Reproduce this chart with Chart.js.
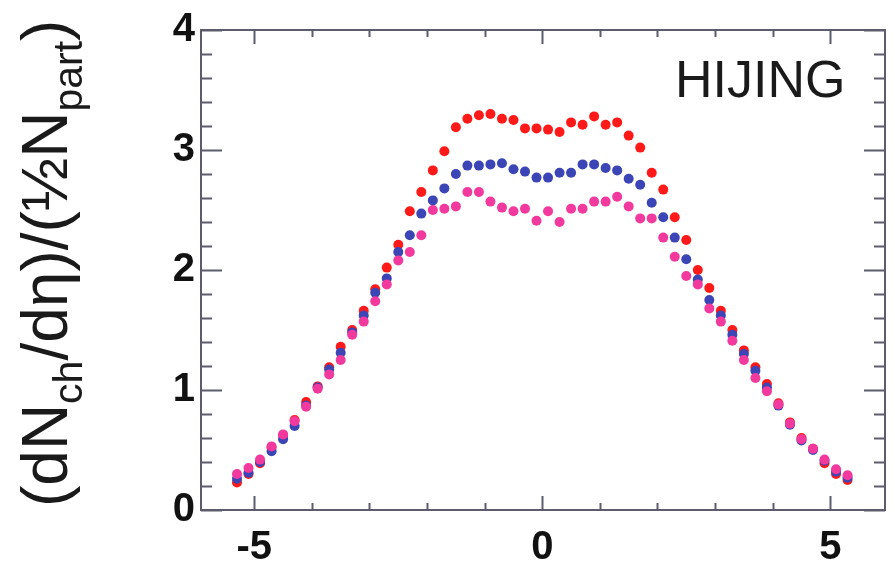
<!DOCTYPE html>
<html>
<head>
<meta charset="utf-8">
<script src="https://cdn.jsdelivr.net/npm/chart.js@4.4.1/dist/chart.umd.min.js"></script>
<style>
  html, body { margin: 0; padding: 0; background: #fff; }
  #wrap { width: 895px; height: 562px; }
</style>
</head>
<body>
<div id="wrap"><canvas id="c" width="895" height="562"></canvas></div>
<script>
// Pseudorapidity bin centres
const eta = [-5.3, -5.1, -4.9, -4.7, -4.5, -4.3, -4.1, -3.9, -3.7, -3.5, -3.3, -3.1, -2.9, -2.7,
  -2.5, -2.3, -2.1, -1.9, -1.7, -1.5, -1.3, -1.1, -0.9, -0.7, -0.5, -0.3, -0.1,
  0.1, 0.3, 0.5, 0.7, 0.9, 1.1, 1.3, 1.5, 1.7, 1.9, 2.1, 2.3, 2.5, 2.7, 2.9,
  3.1, 3.3, 3.5, 3.7, 3.9, 4.1, 4.3, 4.5, 4.7, 4.9, 5.1, 5.3];

// (dNch/dη)/(½Npart) for the three HIJING samples
const redSeries = [0.23, 0.30, 0.39, 0.52, 0.62, 0.75, 0.90, 1.03, 1.19, 1.36,
  1.50, 1.66, 1.84, 2.02, 2.21, 2.49, 2.65, 2.83, 2.99, 3.19,
  3.26, 3.29, 3.30, 3.26, 3.25, 3.18, 3.18,
  3.17, 3.15, 3.23, 3.21, 3.28, 3.21, 3.23, 3.12, 3.02, 2.81,
  2.67, 2.44, 2.25, 2.00, 1.85, 1.66, 1.50, 1.33, 1.19, 1.05,
  0.89, 0.73, 0.60, 0.51, 0.39, 0.30, 0.25];

const blueSeries = [0.26, 0.31, 0.40, 0.49, 0.59, 0.70, 0.87, 1.02, 1.17, 1.31,
  1.48, 1.62, 1.81, 1.93, 2.15, 2.29, 2.47, 2.58, 2.68, 2.80,
  2.87, 2.87, 2.88, 2.89, 2.84, 2.82, 2.77,
  2.77, 2.81, 2.81, 2.88, 2.88, 2.85, 2.83, 2.76, 2.71, 2.56,
  2.44, 2.27, 2.09, 1.92, 1.75, 1.62, 1.46, 1.30, 1.16, 1.02,
  0.87, 0.71, 0.58, 0.50, 0.41, 0.32, 0.27];

const pinkSeries = [0.30, 0.35, 0.42, 0.53, 0.63, 0.74, 0.86, 1.01, 1.13, 1.25,
  1.46, 1.57, 1.74, 1.88, 2.08, 2.15, 2.29, 2.50, 2.51, 2.53,
  2.65, 2.65, 2.57, 2.52, 2.49, 2.51, 2.41,
  2.49, 2.40, 2.51, 2.51, 2.57, 2.57, 2.61, 2.53, 2.43, 2.43,
  2.27, 2.11, 1.95, 1.88, 1.68, 1.57, 1.41, 1.25, 1.10, 0.99,
  0.88, 0.72, 0.59, 0.51, 0.42, 0.34, 0.29];

// Axis tick labels
const xTickLabels = [-5, 0, 5];
const yTickLabels = [0, 1, 2, 3, 4];

const FONT = '"Liberation Sans", Arial, Helvetica, sans-serif';
const AXIS_COLOR = '#5c5c6c';

function toPoints(values) {
  return eta.map((x, i) => ({ x: x, y: values[i] }));
}

// Frame with inward ticks on all four sides
const framePlugin = {
  id: 'frame',
  afterDraw(chart) {
    const { ctx, chartArea: a, scales: { x, y } } = chart;
    ctx.save();
    ctx.strokeStyle = AXIS_COLOR;
    ctx.lineWidth = 2;
    ctx.strokeRect(a.left, a.top, a.right - a.left, a.bottom - a.top);
    ctx.beginPath();
    for (let v = -5; v <= 5; v++) {
      const px = Math.round(x.getPixelForValue(v)) + 0.5;
      const len = (v % 5 === 0) ? 14 : 7;
      ctx.moveTo(px, a.bottom); ctx.lineTo(px, a.bottom - len);
      ctx.moveTo(px, a.top); ctx.lineTo(px, a.top + len);
    }
    for (let k = 0; k <= 20; k++) {
      const py = Math.round(y.getPixelForValue(k * 0.2)) + 0.5;
      const len = (k % 5 === 0) ? 21 : 11;
      ctx.moveTo(a.left, py); ctx.lineTo(a.left + len, py);
      ctx.moveTo(a.right, py); ctx.lineTo(a.right - len, py);
    }
    ctx.stroke();
    ctx.restore();
  }
};

// Rotated y-axis title with subscripts, and the generator label
const textPlugin = {
  id: 'texts',
  afterDraw(chart) {
    const ctx = chart.ctx;
    ctx.save();
    ctx.fillStyle = '#1a1a1a';
    ctx.textBaseline = 'alphabetic';
    ctx.textAlign = 'left';
    ctx.font = '52px ' + FONT;
    ctx.fillText('HIJING', 675, 97);

    const parts = [
      ['(dN', false], ['ch', true], ['/dη)/(½N', false], ['part', true], [')', false]
    ];
    ctx.translate(67, 507);
    ctx.rotate(-Math.PI / 2);
    let cx = 0;
    for (const [txt, sub] of parts) {
      ctx.font = (sub ? '41px ' : '64px ') + FONT;
      ctx.fillText(txt, cx, sub ? 15 : 0);
      cx += ctx.measureText(txt).width;
    }
    ctx.restore();
  }
};

const pointStyleOf = (color) => ({
  showLine: false,
  pointStyle: 'circle',
  pointRadius: 5,
  pointHoverRadius: 5,
  pointBackgroundColor: color,
  pointBorderColor: color,
  pointBorderWidth: 0,
  backgroundColor: color,
  borderColor: color
});

new Chart(document.getElementById('c'), {
  type: 'scatter',
  data: {
    datasets: [
      Object.assign({ label: 'red', data: toPoints(redSeries), order: 2 }, pointStyleOf('#ff1a1a')),
      Object.assign({ label: 'blue', data: toPoints(blueSeries), order: 1 }, pointStyleOf('#3b45b5')),
      Object.assign({ label: 'pink', data: toPoints(pinkSeries), order: 0 }, pointStyleOf('#f2399d'))
    ]
  },
  options: {
    responsive: false,
    animation: false,
    devicePixelRatio: 1,
    layout: { padding: { top: 10, right: 10, left: 0, bottom: 0 } },
    plugins: { legend: { display: false }, tooltip: { enabled: false } },
    scales: {
      x: {
        type: 'linear',
        min: -5.925,
        max: 5.95,
        grid: { display: false, drawTicks: false },
        border: { display: false },
        afterBuildTicks(scale) { scale.ticks = xTickLabels.map(v => ({ value: v })); },
        afterFit(scale) { scale.height = 52; },
        ticks: {
          autoSkip: false, maxRotation: 0, padding: 14, color: '#111',
          font: { family: FONT, size: 40, weight: 'bold' },
          callback: (v) => String(v)
        }
      },
      y: {
        type: 'linear',
        min: 0,
        max: 4,
        grid: { display: false, drawTicks: false },
        border: { display: false },
        afterBuildTicks(scale) { scale.ticks = yTickLabels.map(v => ({ value: v })); },
        afterFit(scale) { scale.width = 201; },
        ticks: {
          autoSkip: false, padding: 6, color: '#111',
          font: { family: FONT, size: 40, weight: 'bold' },
          callback: (v) => String(v)
        }
      }
    }
  },
  plugins: [framePlugin, textPlugin]
});
</script>
</body>
</html>
